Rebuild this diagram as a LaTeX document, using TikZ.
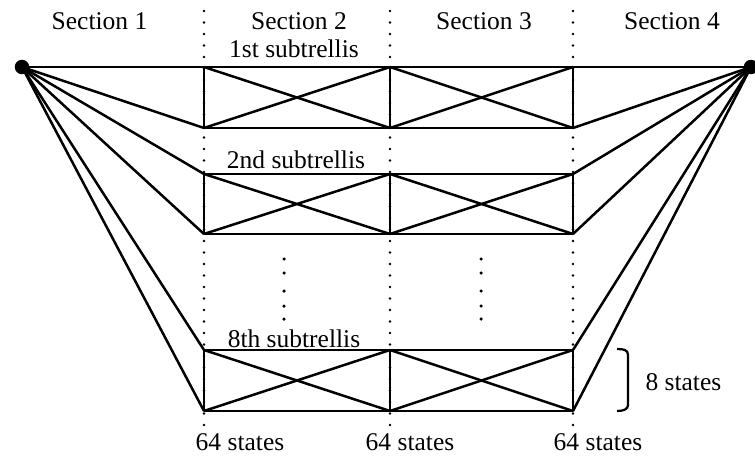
\documentclass[tikz,border=0pt]{standalone}
\usepackage{fontspec}
\setmainfont{Liberation Serif}
\begin{document}
\begin{tikzpicture}[x=0.4pt,y=-0.4pt,
  trel/.style={line width=1pt, line join=round},
  sep/.style={line width=1.1pt, line cap=round, dash pattern=on 0pt off 4.6pt},
  lbl/.style={font=\fontsize{10.2}{12}\selectfont, inner sep=0pt, anchor=base},
  enddot/.style={circle, fill, inner sep=0pt, minimum size=5.8pt},
  ell/.style={circle, fill, inner sep=0pt, minimum size=1.4pt},
  bracket/.style={line width=0.9pt}]
\useasboundingbox (0,0) rectangle (755,460);

% start and end states
\node[enddot] (L) at (22,67) {};
\node[enddot] (R) at (751,67) {};

% section boundaries
\foreach \s/\x in {1/204,2/390,3/573}{
  \coordinate (top\s) at (\x,11);
  \coordinate (bot\s) at (\x,434);
  \draw[sep] (top\s) -- (bot\s);
}

% corner states of each subtrellis
\foreach \n/\t/\b in {1/67/128, 2/174/234, 8/350/411}{
  \foreach \c/\x in {a/204, b/390, c/573}{
    \coordinate (\c\n t) at (\x,\t);
    \coordinate (\c\n b) at (\x,\b);
  }
}

% subtrellises and their branches to the start and end states
\foreach \n in {1,2,8}{
  \draw[trel] (a\n t) rectangle (c\n b);
  \draw[trel] (b\n t) -- (b\n b);
  \draw[trel] (a\n t) -- (b\n b);
  \draw[trel] (a\n b) -- (b\n t);
  \draw[trel] (b\n t) -- (c\n b);
  \draw[trel] (b\n b) -- (c\n t);
  \draw[trel] (L.center) -- (a\n t);
  \draw[trel] (L.center) -- (a\n b);
  \draw[trel] (R.center) -- (c\n t);
  \draw[trel] (R.center) -- (c\n b);
}

% vertical ellipses between the 2nd and 8th subtrellis
\foreach \x/\k in {284/l,481/r}{
  \foreach \y [count=\i] in {259,273,291,306,319}{
    \node[ell] (e\k\i) at (\x,\y) {};
  }
}

% section titles
\node[lbl] (sec1) at (99.5,30) {Section 1};
\node[lbl] (sec2) at (299,30) {Section 2};
\node[lbl] (sec3) at (484,30) {Section 3};
\node[lbl] (sec4) at (672,30) {Section 4};

% subtrellis titles
\node[lbl] (st1) at (294,58) {1st subtrellis};
\node[lbl] (st2) at (296,168) {2nd subtrellis};
\node[lbl] (st8) at (294,347) {8th subtrellis};

% state counts
\node[lbl] (n1) at (240,450) {64 states};
\node[lbl] (n2) at (410,450) {64 states};
\node[lbl] (n3) at (598,450) {64 states};

% bracket for the states of one subtrellis
\coordinate (brt) at (617,349);
\coordinate (brb) at (617,411);
\draw[bracket] (brt) .. controls (624,349) and (628,350) .. (628,355)
  -- (628,405) .. controls (628,409) and (624,411) .. (brb);
\node[lbl, anchor=base west] (eight) at (645,390) {8 states};
\end{tikzpicture}
\end{document}
